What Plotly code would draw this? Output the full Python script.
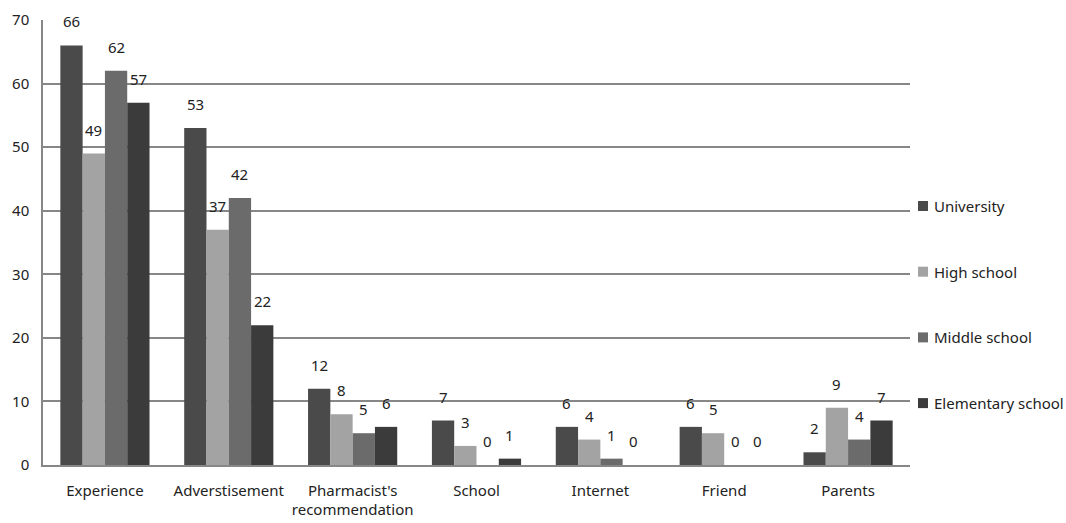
import plotly.graph_objects as go

categories = ["Experience", "Adverstisement", "Pharmacist's<br>recommendation",
              "School", "Internet", "Friend", "Parents"]
university = [66, 53, 12, 7, 6, 6, 2]
high_school = [49, 37, 8, 3, 4, 5, 9]
middle_school = [62, 42, 5, 0, 1, 0, 4]
elementary_school = [57, 22, 6, 1, 0, 0, 7]

series = [
    ("University", university, "#4a4a4a"),
    ("High school", high_school, "#a3a3a3"),
    ("Middle school", middle_school, "#6b6b6b"),
    ("Elementary school", elementary_school, "#3b3b3b"),
]

font_family = "Noto Sans, Open Sans, DejaVu Sans, sans-serif"
text_color = "#222222"
grid_color = "#878787"

# plot geometry (pixels)
W, H = 1066, 523
ML, MR, MT, MB = 43, 156, 20, 58
BARGAP = 0.28
plot_w = W - ML - MR
cat_w = plot_w / len(categories)
bar_w = cat_w * (1 - BARGAP) / len(series)

fig = go.Figure()
annotations = []
shapes = []
for i, (name, vals, color) in enumerate(series):
    fig.add_trace(go.Bar(
        name=name, x=categories, y=vals,
        marker=dict(color=color, line=dict(width=0)),
        showlegend=False,
    ))
    # value labels centred above each bar of this series
    xshift = (i - (len(series) - 1) / 2) * bar_w
    for cat, v in zip(categories, vals):
        annotations.append(dict(
            x=cat, y=v, xref="x", yref="y", text=str(v), showarrow=False,
            xanchor="center", yanchor="bottom", xshift=xshift, yshift=12,
            font=dict(size=15, color=text_color, family=font_family),
        ))
    # legend entry: small square + name
    ly = 1 - (206 + i * 65.7) / H
    shapes.append(dict(
        type="rect", xref="paper", yref="paper",
        x0=(918 - ML) / plot_w, x1=(928 - ML) / plot_w,
        y0=ly * H / (H - MT - MB) - (MB / (H - MT - MB)) - 5 / (H - MT - MB),
        y1=ly * H / (H - MT - MB) - (MB / (H - MT - MB)) + 5 / (H - MT - MB),
        fillcolor=color, line=dict(width=0),
    ))
    annotations.append(dict(
        x=(932 - ML) / plot_w, y=ly * H / (H - MT - MB) - (MB / (H - MT - MB)),
        xref="paper", yref="paper", text=name, showarrow=False,
        xanchor="left", yanchor="middle",
        font=dict(size=15, color=text_color, family=font_family),
    ))

fig.update_layout(
    width=W, height=H,
    margin=dict(l=ML, r=MR, t=MT, b=MB, autoexpand=False),
    paper_bgcolor="white", plot_bgcolor="white",
    barmode="group", bargap=BARGAP, bargroupgap=0,
    font=dict(family=font_family, size=15, color=text_color),
    showlegend=False,
    annotations=annotations,
    shapes=shapes,
)
fig.update_yaxes(
    range=[0, 70], dtick=10, showgrid=True, gridcolor=grid_color, gridwidth=1.5,
    showline=True, linecolor=grid_color, linewidth=1.5, zeroline=False,
    ticks="", ticklabelstandoff=9, tickfont=dict(size=15, color=text_color),
)
fig.update_xaxes(
    showline=True, linecolor=grid_color, linewidth=1.5, ticks="",
    ticklabelstandoff=11, tickfont=dict(size=15, color=text_color),
)

fig.write_html("out.html")
